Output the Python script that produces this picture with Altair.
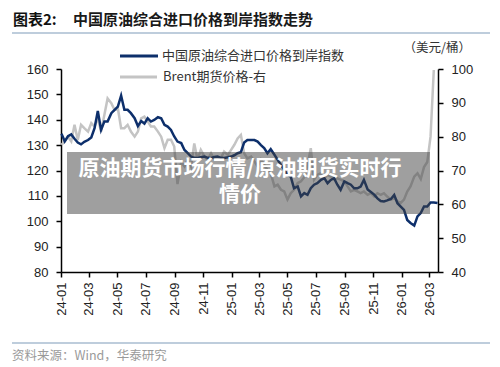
import altair as alt
import pandas as pd

# ---- data ----
china_index = [
    134.5, 131.5, 133.5, 134.2, 132.5, 131.0, 130.3, 131.3, 132.0, 133.0,
    136.7, 143.5, 136.0, 139.3, 139.3, 142.6, 143.9, 145.2, 149.5, 143.9,
    143.9, 142.6, 140.6, 137.5, 139.5, 138.5, 140.6, 139.3, 139.9, 141.0,
    140.6, 138.0, 137.3, 136.0, 133.4, 131.4, 130.8, 128.1, 126.8, 125.5,
    125.0, 124.9, 125.2, 125.5, 125.0, 124.9, 125.3, 125.5, 125.0, 124.9,
    125.2, 125.5, 126.0, 126.8, 127.2, 131.0, 132.0, 132.0, 132.0, 131.4,
    130.0, 128.8, 126.8, 128.4, 126.2, 124.2, 122.2, 120.3, 118.3, 117.6,
    113.0, 113.7, 109.8, 111.1, 110.4, 113.0, 114.4, 115.0, 116.3, 117.0,
    115.0, 116.3, 117.0, 114.4, 112.4, 115.7, 115.0, 114.4, 113.0, 113.0,
    113.7, 116.3, 112.5, 111.5, 110.5, 109.0, 108.0, 107.8, 108.2, 108.8,
    110.4, 107.1, 105.8, 104.5, 100.5, 99.3, 98.3, 101.9, 103.2, 105.8,
    105.8, 107.4, 107.4, 107.2,
]
brent_price = [
    77.6, 78.6, 80.0, 78.6, 83.5, 79.0, 83.5, 82.5, 81.5, 84.0,
    83.0, 85.5, 81.5, 86.4, 91.3, 89.9, 87.9, 88.4, 82.5, 82.5,
    83.5, 81.5, 80.0, 81.5, 85.4, 85.9, 84.5, 83.0, 83.0, 81.5,
    80.0, 76.6, 79.1, 79.1, 77.1, 66.0, 72.5, 71.2, 73.2, 71.2,
    78.0, 73.2, 76.1, 74.1, 73.2, 75.1, 73.2, 73.6, 73.6, 75.6,
    74.6, 76.1, 77.6, 79.5, 80.5, 75.1, 73.6, 74.1, 72.7, 71.2,
    73.2, 71.7, 70.2, 69.2, 65.3, 65.8, 64.3, 63.8, 61.4, 63.3,
    64.3, 66.3, 66.8, 68.0, 71.5, 76.6, 67.3, 68.7, 69.2, 67.7,
    68.7, 68.2, 67.3, 67.7, 67.3, 66.8, 65.3, 63.8, 64.3, 63.8,
    63.3, 63.8, 62.8, 63.3, 62.3, 63.3, 62.8, 63.3, 62.3, 61.4,
    61.8, 60.9, 60.4, 61.4, 63.8, 65.3, 68.2, 69.2, 67.5, 71.0,
    72.5, 80.0, 99.7,
]
tick_months = [(2024, m) for m in (1, 3, 5, 7, 9, 11)] + \
              [(2025, m) for m in (1, 3, 5, 7, 9, 11)] + [(2026, 1), (2026, 3)]
left_ticks = [80, 90, 100, 110, 120, 130, 140, 150, 160]
right_ticks = [40, 50, 60, 70, 80, 90, 100]

title_a = "图表2:"
title_b = "中国原油综合进口价格到岸指数走势"
legend_a = "中国原油综合进口价格到岸指数"
legend_b = "Brent期货价格-右"
unit_text = "（美元/桶）"
source_text = "资料来源：Wind，华泰研究"
banner_1 = "原油期货市场行情/原油期货实时行"
banner_2 = "情价"

NAVY = "#0d2f6b"
GREY = "#c4c4c4"
CJK = "Noto Sans CJK SC"

dates = pd.date_range("2024-01-02", "2026-03-19", periods=len(china_index)).normalize().strftime("%Y-%m-%d")
df_a = pd.DataFrame({"date": dates, "v": china_index})
df_b = pd.DataFrame({"date": dates[:len(brent_price)], "v": brent_price})

x_enc = alt.X(
    "date:T",
    title=None,
    scale=alt.Scale(type="utc", domain=[alt.DateTime(year=2024, month=1, date=1, utc=True),
                                        alt.DateTime(year=2026, month=3, date=20, utc=True)]),
    axis=alt.Axis(values=[alt.DateTime(year=y, month=m, date=1, utc=True) for y, m in tick_months],
                  labelExpr="utcFormat(datum.value, '%y-%m')", labelAngle=270, labelPadding=5),
)

line_b = alt.Chart(df_b).mark_line(color=GREY, strokeWidth=2.5).encode(
    x=x_enc,
    y=alt.Y("v:Q", title=None, scale=alt.Scale(domain=[40, 100]),
            axis=alt.Axis(orient="right", values=right_ticks, labelPadding=8)),
)
line_a = alt.Chart(df_a).mark_line(color=NAVY, strokeWidth=2.5).encode(
    x=x_enc,
    y=alt.Y("v:Q", title=None, scale=alt.Scale(domain=[80, 160]),
            axis=alt.Axis(orient="left", values=left_ticks, labelPadding=8)),
)

one = pd.DataFrame({"k": [0]})


def text(s, x, y, **kw):
    return alt.Chart(pd.DataFrame({"t": [s]})).mark_text(**kw).encode(
        x=alt.value(x), y=alt.value(y), text="t:N")


def hrule(x1, x2, y, color, w):
    return alt.Chart(one).mark_rule(color=color, strokeWidth=w).encode(
        x=alt.value(x1), x2=alt.value(x2), y=alt.value(y))


banner = alt.Chart(one).mark_rect(color="#404040", opacity=0.5).encode(
    x=alt.value(6), x2=alt.value(369), y=alt.value(83), y2=alt.value(145))

layers = [
    line_b, line_a,
    banner,
    text(banner_1, 179, 100, font=CJK, fontSize=21, fontWeight="bold", color="white", align="center", baseline="middle"),
    text(banner_2, 179, 126, font=CJK, fontSize=21, fontWeight="bold", color="white", align="center", baseline="middle"),
    text(title_a, -48, -49, font=CJK, fontSize=15, fontWeight="bold", color="#111", align="left", baseline="middle"),
    text(title_b, 12, -49, font=CJK, fontSize=15, fontWeight="bold", color="#1a1a1a", align="left", baseline="middle"),
    hrule(-49, 429, -36, "#a9bcd0", 1.5),
    hrule(59, 97, -13, NAVY, 3),
    text(legend_a, 101, -13, font=CJK, fontSize=13, color="#333", align="left", baseline="middle"),
    hrule(59, 96, 8, GREY, 3),
    text(legend_b, 102, 8, font=CJK, fontSize=13, color="#333", align="left", baseline="middle"),
    text(unit_text, 410, -21, font=CJK, fontSize=12.5, color="#333", align="right", baseline="middle"),
    hrule(-49, 429, 274, "#a9bcd0", 1.5),
    text(source_text, -49, 287, font=CJK, fontSize=12.5, color="#9a9a9a", align="left", baseline="middle"),
]

chart = alt.layer(*layers).resolve_scale(y="independent").properties(
    width=377, height=203,
    autosize=alt.AutoSizeParams(type="none"),
    padding={"left": 53, "top": 61, "right": 54, "bottom": 94},
).configure_view(stroke="transparent").configure_axis(
    grid=False, domainColor="black", tickColor="black", domainWidth=1.5, tickWidth=1.5,
    tickSize=5, labelColor="#222", labelFont="Liberation Sans", labelFontSize=13,
)

chart.save("out.html", embed_options={"renderer": "svg", "actions": False})
